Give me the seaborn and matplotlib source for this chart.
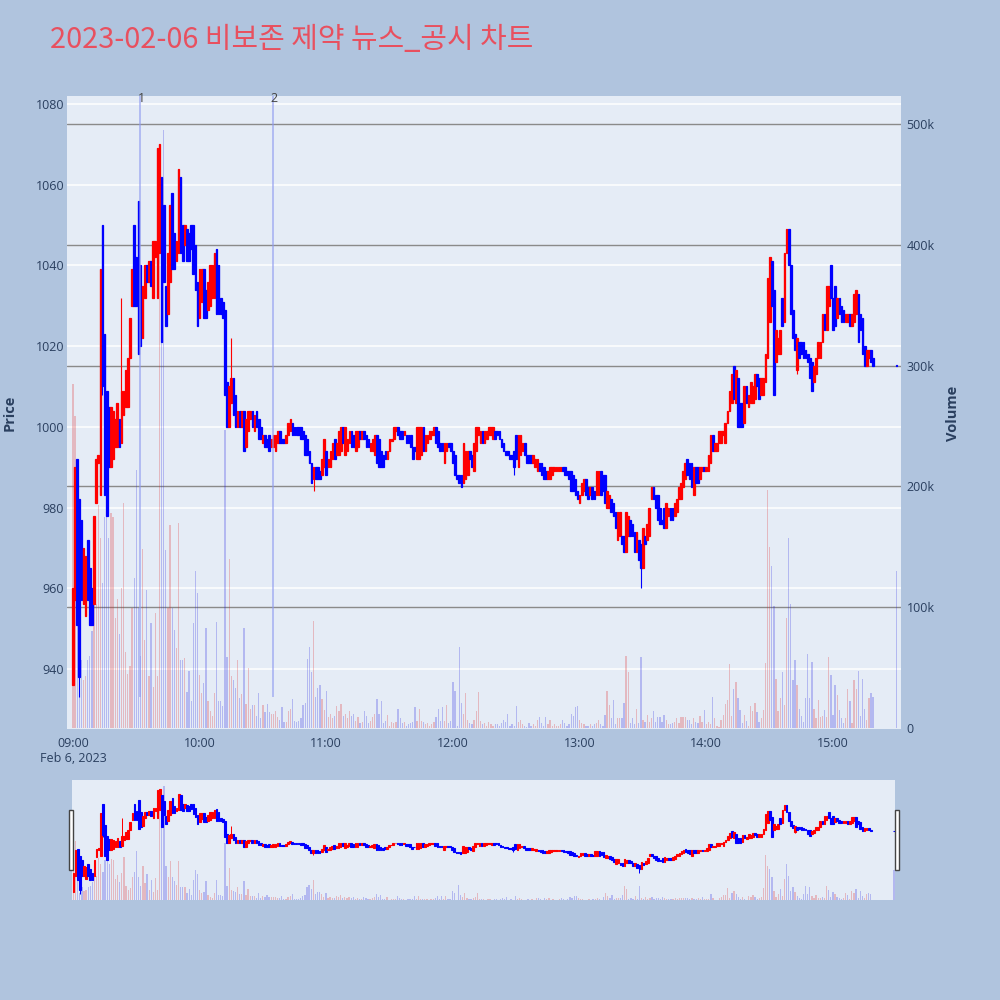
"""Intraday candlestick + volume chart (2023-02-06, 비보존 제약)."""

import numpy as np
import pandas as pd
import seaborn as sns
import matplotlib.pyplot as plt
from matplotlib.patches import Rectangle

# minute offsets from 09:00 (regular session 09:00-15:19, closing auction 15:30)
minutes = list(range(380)) + [390]

opens = [
    936, 957, 992, 982, 977, 956, 953, 972, 965, 960,
    956, 981, 991, 983, 1050, 1023, 1009, 1005, 990, 992,
    995, 995, 1002, 996, 1003, 1005, 1005, 1017, 1030, 1050,
    1042, 1056, 1040, 1022, 1032, 1040, 1036, 1041, 1032, 1042,
    1032, 1043, 1062, 1055, 1035, 1028, 1036, 1058, 1048, 1041,
    1043, 1062, 1050, 1045, 1049, 1048, 1050, 1050, 1045, 1036,
    1027, 1031, 1039, 1034, 1029, 1030, 1032, 1032, 1044, 1040,
    1032, 1031, 1029, 1011, 1000, 1006, 1012, 1008, 1000, 1004,
    1000, 1004, 995, 999, 1002, 1004, 999, 1004, 1002, 1000,
    996, 998, 997, 998, 995, 995, 994, 996, 999, 997,
    997, 996, 998, 999, 1001, 1000, 1000, 1000, 1000, 999,
    998, 997, 994, 991, 987, 990, 990, 989, 988, 990,
    994, 990, 990, 992, 997, 993, 993, 994, 1000, 993,
    994, 996, 999, 998, 994, 995, 999, 997, 999, 998,
    997, 994, 994, 993, 998, 997, 994, 993, 994, 992,
    994, 996.5, 997, 999, 1000, 999, 999, 998, 998, 998,
    998, 995, 995, 992, 992, 993, 1000, 994, 996, 997,
    998, 998, 1000, 999, 996, 996, 991, 994, 996, 996,
    994, 993, 988, 988, 988, 986, 987, 988, 994, 993,
    989, 994, 998, 996, 999, 996, 997, 998, 998, 997,
    999, 999, 999, 997, 996, 994, 994, 993, 993, 994,
    998, 990, 993, 994, 996, 993, 993, 993, 991, 990,
    989, 991, 991, 990, 989, 987, 987, 988, 989, 989,
    989, 989, 990, 990, 989, 989, 989, 988, 987, 984,
    981, 983, 984, 987, 985, 983, 985, 984, 983, 983,
    989, 988, 988, 980, 980, 982, 981, 979, 972, 973,
    973, 973, 969, 973, 977, 976, 974, 969, 972, 971,
    965, 973, 972, 973, 982, 985, 983, 983, 980, 977,
    980, 975, 978, 980, 980, 978, 979, 982, 982, 985,
    987, 992, 991, 991, 983, 990, 990, 987, 989, 990,
    989, 989, 991, 998, 994, 994, 996, 996, 998, 996,
    1001, 1004, 1006, 1015, 1006, 1012, 1006, 1006, 1001, 1010,
    1005, 1006, 1006, 1007, 1013, 1012, 1008, 1008, 1011, 1017,
    1026, 1041, 1034, 1016, 1018, 1018, 1032, 1026, 1043, 1049,
    1040, 1029, 1023, 1014, 1021, 1021, 1021, 1019, 1018, 1017,
    1016, 1011, 1013, 1017, 1017, 1021, 1028, 1024, 1030, 1040,
    1032, 1035, 1027, 1032, 1030, 1029, 1026, 1026, 1028, 1025,
    1026, 1028, 1033, 1028, 1027, 1020, 1015, 1017, 1019, 1017,
    1015,
]

closes = [
    960, 990, 951, 938, 957, 970, 968, 957, 951, 951,
    978, 992, 993, 1039, 1010, 983, 978, 990, 1005, 1004,
    1002, 1006, 995, 1009, 1009, 1014, 1017, 1027, 1039, 1030,
    1030, 1018, 1020, 1035, 1040, 1036, 1041, 1035, 1046, 1046,
    1069, 1070, 1021, 1036, 1025, 1043, 1055, 1039, 1039, 1046,
    1064, 1043, 1041, 1050, 1041, 1041, 1044, 1038, 1034, 1025,
    1039, 1039, 1027, 1027, 1036, 1040, 1040, 1043, 1028, 1028,
    1028, 1027, 1008, 1000, 1010, 1012, 1003, 1000, 1004, 1000,
    1004, 994, 1002, 1004, 1004, 1000, 1003, 1000, 997, 997,
    998, 995, 995, 994, 997, 998, 998, 999, 996, 996,
    996, 998, 1001, 1002, 998, 998, 998, 998, 997, 997,
    993, 993, 991, 986, 990, 987, 987, 987, 992, 997,
    988, 992, 994, 996, 992, 996, 999, 1000, 996, 1000,
    997, 999, 995, 995, 999, 999, 997, 999, 997, 995,
    995, 996, 997, 998, 991, 990, 990, 990, 992, 994,
    997, 997, 1000, 1000, 998, 997, 997, 999, 996, 996,
    995, 992, 994, 1000, 1000, 1000, 994, 998, 998, 999,
    999, 1000, 996, 995, 994, 994, 996, 996, 995, 994,
    991, 988, 987, 986, 985, 996, 994, 994, 992, 990,
    996, 1000, 1000, 999, 996, 999, 999, 1000, 1000, 1000,
    997, 998, 997, 995, 994, 993, 993, 992, 992, 990,
    992, 998, 998, 996, 993, 991, 991, 991, 993, 992,
    992, 989, 988, 987, 987, 989, 990, 990, 990, 990,
    990, 990, 989, 988, 988, 987, 984, 984, 983, 982,
    983, 986, 987, 983, 982, 985, 982, 982, 989, 989,
    983, 984, 981, 984, 983, 979, 978, 975, 979, 979,
    971, 969, 979, 978, 973, 973, 969, 974, 967, 965,
    975, 971, 976, 980, 985, 982, 980, 977, 976, 976,
    975, 981, 980, 977, 977, 981, 982, 985, 986, 989,
    991, 988, 987, 985, 990, 986, 986, 990, 990, 989,
    990, 993, 998, 994, 996, 996, 999, 999, 999, 1001,
    1004, 1009, 1013, 1007, 1014, 1000, 1000, 1000, 1010, 1006,
    1008, 1011, 1010, 1013, 1010, 1007, 1012, 1012, 1018, 1037,
    1042, 1030, 1008, 1024, 1022, 1024, 1025, 1043, 1049, 1040,
    1028, 1022, 1019, 1022, 1017, 1018, 1017, 1017, 1016, 1012,
    1009, 1015, 1017, 1021, 1021, 1028, 1024, 1035, 1035, 1032,
    1024, 1025, 1032, 1028, 1026, 1026, 1028, 1028, 1025, 1028,
    1033, 1034, 1021, 1024, 1018, 1015, 1019, 1019, 1016, 1015,
    1015,
]

# traded volume, thousands of shares
volumes = [
    285, 258, 154, 30, 56, 40, 43, 56, 60, 80,
    103, 103, 185, 157, 120, 175, 182, 157, 178, 175,
    91, 107, 78, 116, 186, 63, 45, 51, 99, 124,
    214, 99, 60, 148, 73, 114, 43, 87, 34, 95,
    43, 470, 420, 495, 147, 99, 168, 99, 81, 66,
    170, 56, 56, 58, 30, 47, 22, 87, 130, 112,
    44, 29, 37, 83, 22, 14, 10, 29, 88, 22,
    22, 18, 247, 59, 140, 43, 40, 33, 56, 25,
    28, 83, 20, 50, 16, 19, 19, 10, 29, 8,
    19, 13, 20, 13, 12, 12, 14, 9, 7, 17,
    5, 5, 14, 16, 24, 6, 5, 6, 8, 19,
    21, 57, 67, 46, 89, 26, 33, 36, 24, 15,
    31, 9, 12, 8, 10, 18, 14, 20, 10, 12,
    8, 14, 10, 12, 6, 9, 4, 5, 14, 10,
    4, 6, 9, 12, 24, 12, 22, 4, 6, 11,
    2, 5, 4, 5, 16, 8, 4, 5, 2, 3,
    4, 5, 17, 6, 16, 6, 5, 3, 4, 2,
    3, 5, 9, 16, 6, 17, 6, 19, 4, 6,
    38, 31, 2, 67, 21, 12, 29, 7, 4, 3,
    7, 14, 30, 6, 3, 4, 2, 5, 3, 2,
    3, 3, 2, 4, 7, 5, 12, 2, 3, 2,
    18, 5, 7, 3, 2, 1, 4, 2, 3, 2,
    7, 9, 4, 2, 9, 3, 7, 2, 3, 2,
    2, 3, 7, 4, 2, 3, 12, 10, 17, 18,
    7, 4, 3, 2, 2, 3, 2, 3, 4, 7,
    3, 2, 11, 31, 19, 8, 23, 3, 8, 8,
    8, 21, 60, 46, 4, 8, 3, 16, 4, 59,
    7, 5, 11, 5, 8, 14, 5, 9, 9, 5,
    11, 7, 3, 3, 4, 5, 8, 4, 9, 9,
    9, 7, 7, 3, 8, 5, 4, 10, 5, 15,
    3, 5, 3, 26, 8, 2, 1, 7, 11, 20,
    23, 53, 10, 32, 38, 25, 15, 4, 11, 6,
    2, 18, 14, 21, 13, 5, 8, 15, 54, 197,
    150, 134, 101, 41, 14, 25, 46, 19, 91, 157,
    103, 40, 56, 36, 16, 10, 5, 25, 61, 25,
    55, 16, 8, 23, 9, 10, 15, 9, 59, 44,
    11, 36, 27, 15, 8, 4, 8, 32, 22, 4,
    40, 32, 47, 10, 41, 16, 7, 25, 29, 26,
    130,
]

# wick extremes that stick out of the bodies
high_wicks = {23: 1032, 50: 1064, 75: 1022, 359: 1040}
low_wicks = {3: 933, 14: 1008, 114: 984, 209: 988, 269: 960, 343: 1013}

# news / disclosure markers
news_minutes = [32, 95]
news_labels = ['1', '2']
news_line_bottom = 933

title = '2023-02-06 비보존 제약 뉴스_공시 차트'
time_ticks = [0, 60, 120, 180, 240, 300, 360]
time_labels = ['09:00', '10:00', '11:00', '12:00', '13:00', '14:00', '15:00']
price_ticks = [940, 960, 980, 1000, 1020, 1040, 1060, 1080]
volume_ticks = [0, 100, 200, 300, 400, 500]

PAPER = '#B0C4DE'
PLOT_BG = '#E5ECF6'
FONT = '#2a3f5f'
candle_colors = {'up': '#FF0000', 'down': '#0000FF'}

df = pd.DataFrame({'minute': minutes, 'open': opens, 'close': closes, 'volume': volumes})
df['high'] = df[['open', 'close']].max(axis=1)
df['low'] = df[['open', 'close']].min(axis=1)
for m, v in high_wicks.items():
    df.loc[df['minute'] == m, 'high'] = v
for m, v in low_wicks.items():
    df.loc[df['minute'] == m, 'low'] = v
df['dir'] = np.where(df['close'] > df['open'], 'up', 'down')


def draw_candles(ax, data, body_w, lw):
    colors = data['dir'].map(candle_colors).tolist()
    ax.vlines(data['minute'], data['low'], data['high'], colors=colors, lw=lw * 0.9)
    body_low = data[['open', 'close']].min(axis=1)
    body_h = (data['close'] - data['open']).abs().clip(lower=0.3)
    ax.bar(data['minute'], body_h, bottom=body_low, width=body_w,
           color=colors, edgecolor=colors, linewidth=lw)


def draw_volume(ax, data):
    sns.barplot(data=data, x='minute', y='volume', hue='dir', palette=candle_colors,
                native_scale=True, dodge=False, width=0.6, alpha=0.25, linewidth=0,
                errorbar=None, legend=False, ax=ax)
    ax.set_xlabel('')
    ax.set_ylabel('')


sns.set_theme(style='white')
plt.rcParams['font.family'] = ['Open Sans', 'DejaVu Sans']

fig = plt.figure(figsize=(10, 10), dpi=100)
fig.patch.set_facecolor(PAPER)

XLIM = (-2.8, 392.2)
PRICE_LIM = (925.1, 1082.0)
VOL_LIM = (-0.8, 523.2)

# main panel: background + price grid
ax = fig.add_axes([0.067, 0.271, 0.834, 0.633])
ax.set_facecolor(PLOT_BG)
ax.set_ylim(*PRICE_LIM)
ax.set_yticks(price_ticks)
ax.set_yticklabels([str(p) for p in price_ticks])
ax.grid(axis='y', color='white', lw=1.1)
ax.grid(axis='x', visible=False)
ax.tick_params(axis='both', length=0, labelsize=9, colors=FONT)
ax.tick_params(axis='y', pad=2)
ax.tick_params(axis='x', pad=6)
for s in ax.spines.values():
    s.set_visible(False)

# volume layer (secondary axis)
axv = ax.twinx()
draw_volume(axv, df)
for v in volume_ticks[1:]:
    axv.axhline(v, color='#8a8a8a', lw=1, zorder=0)
axv.set_ylim(*VOL_LIM)
axv.set_yticks(volume_ticks)
axv.set_yticklabels(['0'] + [f'{v}k' for v in volume_ticks[1:]])
axv.tick_params(axis='y', length=0, labelsize=9, colors=FONT, pad=4)
for s in axv.spines.values():
    s.set_visible(False)

# candle layer on top
axc = ax.twinx()
draw_candles(axc, df, 0.8, 0.9)
axc.set_ylim(*PRICE_LIM)
axc.set_yticks([])
for s in axc.spines.values():
    s.set_visible(False)
for m, lab in zip(news_minutes, news_labels):
    axc.vlines(m, news_line_bottom, PRICE_LIM[1], color='#8f9bf0', alpha=0.65, lw=1.3)
    axc.text(m + 0.4, PRICE_LIM[1] - 0.6, lab, ha='center', va='center', fontsize=9, color='#444444')

ax.set_xlim(*XLIM)
ax.set_xticks(time_ticks)
ax.set_xticklabels(time_labels)

fig.text(0.073, 1 - 0.758, 'Feb 6, 2023', ha='center', va='center', fontsize=9, color=FONT)
fig.text(0.010, 1 - 0.413, 'Price', rotation=90, ha='center', va='center',
         fontsize=10.5, fontweight='bold', color=FONT)
fig.text(0.953, 1 - 0.413, 'Volume', rotation=90, ha='center', va='center',
         fontsize=10.5, fontweight='bold', color=FONT)
fig.text(0.050, 1 - 0.040, title, ha='left', va='center', fontsize=20.8, color='#E8505F',
         family=['Noto Sans CJK KR', 'DejaVu Sans'])

# range slider
axs = fig.add_axes([0.072, 0.100, 0.8234, 0.120])
axs.set_facecolor(PLOT_BG)
draw_volume(axs, df)
axs.set_ylim(0, VOL_LIM[1])
axs.set_xticks([])
axs.set_yticks([])
for s in axs.spines.values():
    s.set_visible(False)
axsc = axs.twinx()
draw_candles(axsc, df, 0.8, 0.8)
axsc.set_ylim(*PRICE_LIM)
axsc.set_yticks([])
for s in axsc.spines.values():
    s.set_visible(False)
axs.set_xlim(-0.7, 390.7)

for hx in (0.0690, 0.8952):
    fig.add_artist(Rectangle((hx, 0.130), 0.0040, 0.060, transform=fig.transFigure,
                             facecolor='white', edgecolor='#444444', lw=1))

plt.savefig('out.png', dpi=100, facecolor=PAPER)
plt.close()
